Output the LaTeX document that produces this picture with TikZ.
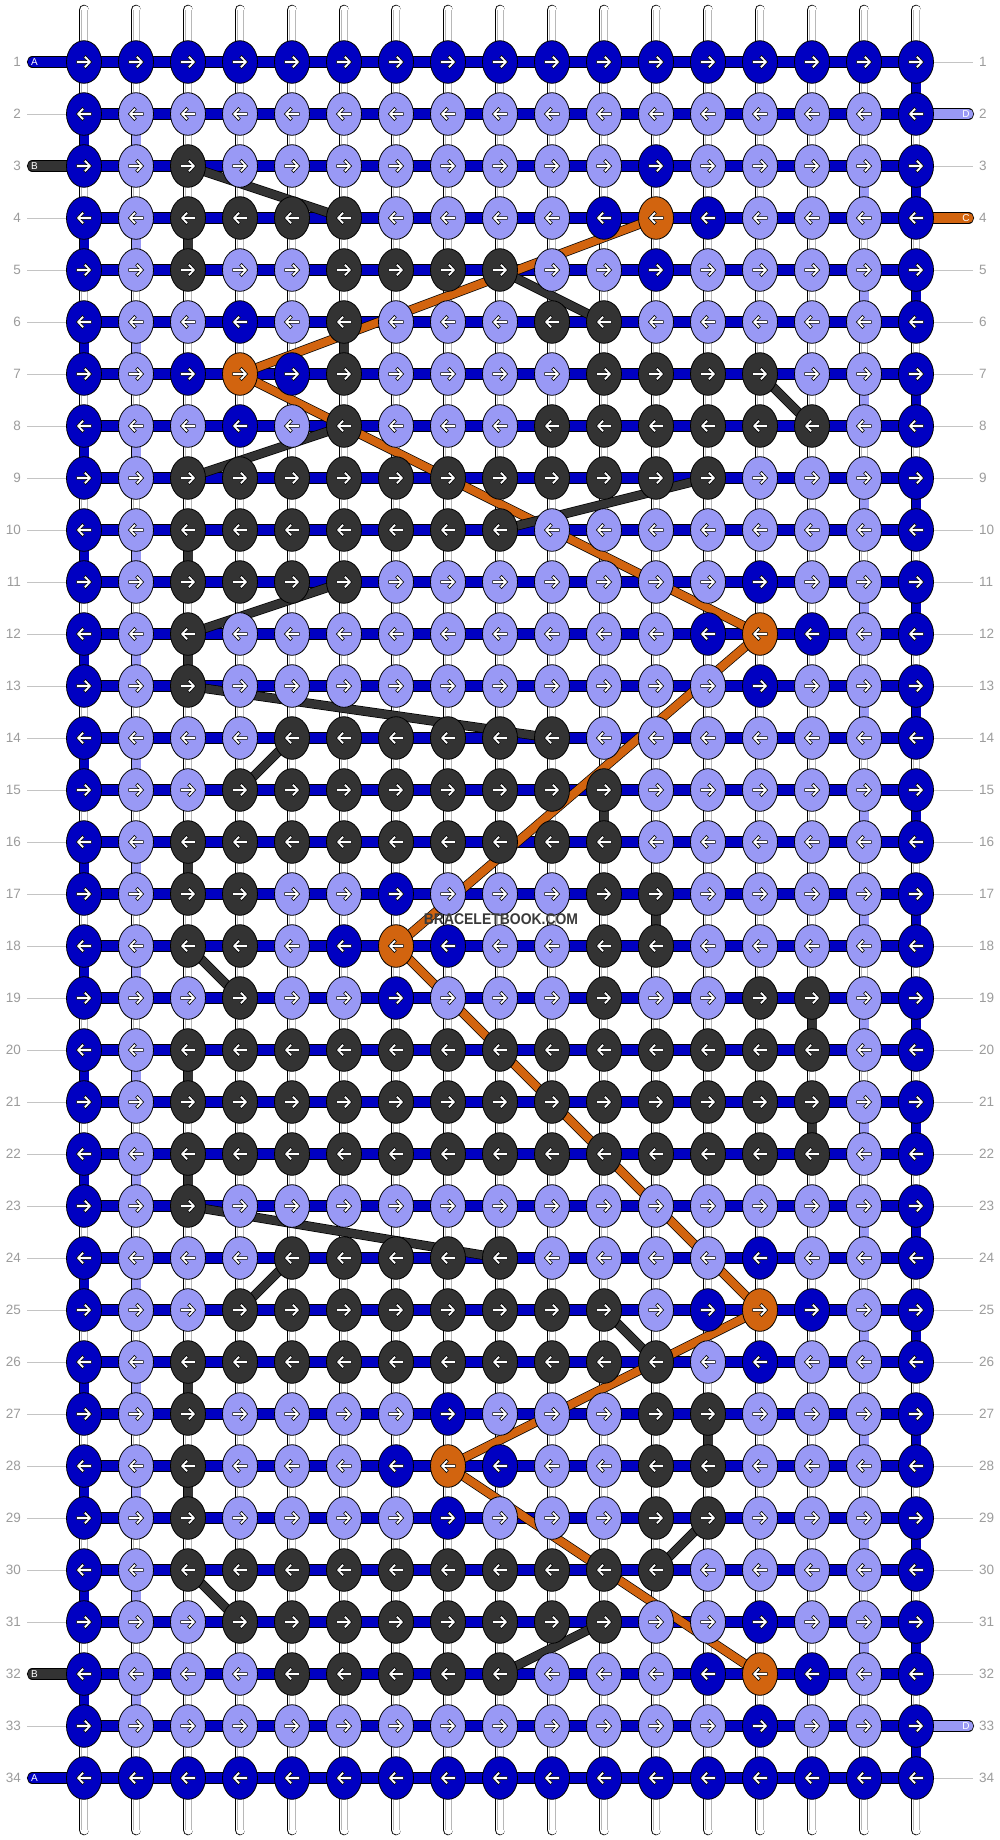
\documentclass[tikz,border=0pt]{standalone}
\usepackage{fontspec}
\setmainfont{Liberation Sans}
\usetikzlibrary{shapes.geometric}
\definecolor{cB}{HTML}{0000C2}
\definecolor{cL}{HTML}{9999F5}
\definecolor{cK}{HTML}{333333}
\definecolor{cO}{HTML}{D2640F}
\definecolor{numgray}{HTML}{9C9C9C}
\definecolor{guidegray}{HTML}{C4C4C4}
\definecolor{wmgray}{HTML}{3A3A3A}
\pgfdeclarelayer{bg}
\pgfdeclarelayer{lines}
\pgfsetlayers{bg,lines,main}
\tikzset{
  knotnode/.style={ellipse, draw=black, line width=0.8pt, minimum width=35pt, minimum height=42.6pt, inner sep=0pt, outer sep=0pt},
  arrowglyph/.style={fill=white, draw=black, line width=0.6pt, line join=miter},
  strand/.style={draw=black, line width=0.8pt, double=white, double distance=9pt, line cap=round},
  strandshade/.style={draw=black!28, line width=0.6pt},
  seg/.style={draw=black, line width=0.8pt, double=#1, double distance=9pt},
  band/.style={draw=black, line width=0.8pt, double=#1, double distance=9.6pt},
  tail/.style={draw=black, line width=0.8pt, double=#1, double distance=9.6pt, line cap=round},
  carry/.style={draw=black, line width=0.7pt, double=#1, double distance=8pt},
  rownum/.style={text=numgray, font=\fontsize{13.5}{14}\selectfont, inner sep=0pt},
  guide/.style={draw=guidegray, line width=1pt},
  taillabel/.style={text=white, font=\fontsize{10}{11}\selectfont, inner sep=0pt},
}
\newcommand\defknotrow[2]{\expandafter\def\csname krow#1\endcsname{#2}}
\defknotrow{1}{B,B,B,B,B,B,B,B,B,B,B,B,B,B,B,B,B}
\defknotrow{2}{B,L,L,L,L,L,L,L,L,L,L,L,L,L,L,L,B}
\defknotrow{3}{B,L,K,L,L,L,L,L,L,L,L,B,L,L,L,L,B}
\defknotrow{4}{B,L,K,K,K,K,L,L,L,L,B,O,B,L,L,L,B}
\defknotrow{5}{B,L,K,L,L,K,K,K,K,L,L,B,L,L,L,L,B}
\defknotrow{6}{B,L,L,B,L,K,L,L,L,K,K,L,L,L,L,L,B}
\defknotrow{7}{B,L,B,O,B,K,L,L,L,L,K,K,K,K,L,L,B}
\defknotrow{8}{B,L,L,B,L,K,L,L,L,K,K,K,K,K,K,L,B}
\defknotrow{9}{B,L,K,K,K,K,K,K,K,K,K,K,K,L,L,L,B}
\defknotrow{10}{B,L,K,K,K,K,K,K,K,L,L,L,L,L,L,L,B}
\defknotrow{11}{B,L,K,K,K,K,L,L,L,L,L,L,L,B,L,L,B}
\defknotrow{12}{B,L,K,L,L,L,L,L,L,L,L,L,B,O,B,L,B}
\defknotrow{13}{B,L,K,L,L,L,L,L,L,L,L,L,L,B,L,L,B}
\defknotrow{14}{B,L,L,L,K,K,K,K,K,K,L,L,L,L,L,L,B}
\defknotrow{15}{B,L,L,K,K,K,K,K,K,K,K,L,L,L,L,L,B}
\defknotrow{16}{B,L,K,K,K,K,K,K,K,K,K,L,L,L,L,L,B}
\defknotrow{17}{B,L,K,K,L,L,B,L,L,L,K,K,L,L,L,L,B}
\defknotrow{18}{B,L,K,K,L,B,O,B,L,L,K,K,L,L,L,L,B}
\defknotrow{19}{B,L,L,K,L,L,B,L,L,L,K,L,L,K,K,L,B}
\defknotrow{20}{B,L,K,K,K,K,K,K,K,K,K,K,K,K,K,L,B}
\defknotrow{21}{B,L,K,K,K,K,K,K,K,K,K,K,K,K,K,L,B}
\defknotrow{22}{B,L,K,K,K,K,K,K,K,K,K,K,K,K,K,L,B}
\defknotrow{23}{B,L,K,L,L,L,L,L,L,L,L,L,L,L,L,L,B}
\defknotrow{24}{B,L,L,L,K,K,K,K,K,L,L,L,L,B,L,L,B}
\defknotrow{25}{B,L,L,K,K,K,K,K,K,K,K,L,B,O,B,L,B}
\defknotrow{26}{B,L,K,K,K,K,K,K,K,K,K,K,L,B,L,L,B}
\defknotrow{27}{B,L,K,L,L,L,L,B,L,L,L,K,K,L,L,L,B}
\defknotrow{28}{B,L,K,L,L,L,B,O,B,L,L,K,K,L,L,L,B}
\defknotrow{29}{B,L,K,L,L,L,L,B,L,L,L,K,K,L,L,L,B}
\defknotrow{30}{B,L,K,K,K,K,K,K,K,K,K,K,L,L,L,L,B}
\defknotrow{31}{B,L,L,K,K,K,K,K,K,K,K,L,L,B,L,L,B}
\defknotrow{32}{B,L,L,L,K,K,K,K,K,L,L,L,B,O,B,L,B}
\defknotrow{33}{B,L,L,L,L,L,L,L,L,L,L,L,L,B,L,L,B}
\defknotrow{34}{B,B,B,B,B,B,B,B,B,B,B,B,B,B,B,B,B}
\begin{document}
\begin{tikzpicture}[x=1pt,y=-1pt]
\useasboundingbox (0,0) rectangle (1000,1840);
% knots and arrows
\foreach \r in {1,...,34}{
  \pgfmathsetmacro{\y}{62+52*(\r-1)}
  \pgfmathsetmacro{\dir}{2*mod(\r,2)-1}
  \edef\cols{\csname krow\r\endcsname}
  \foreach \k [count=\c] in \cols {
    \pgfmathsetmacro{\x}{84+52*(\c-1)}
    \node[knotnode, fill=c\k] (k-\r-\c) at (\x,\y) {};
    \draw[arrowglyph, shift={(\x,\y)}, xscale=\dir]
      (-7.4,-1.4) -- (2.8,-1.4) -- (-0.4,-4.6) -- (1.6,-6.6) -- (7.6,0)
      -- (1.6,6.6) -- (-0.4,4.6) -- (2.8,1.4) -- (-7.4,1.4) -- cycle;
  }
  \node[rownum, anchor=east] (ln-\r) at (21,\y) {\r};
  \node[rownum, anchor=west] (rn-\r) at (979,\y) {\r};
}
% background strands
\begin{pgfonlayer}{bg}
  \fill[white] (0,0) rectangle (1000,1840);
  \foreach \c in {1,...,17}{
    \pgfmathsetmacro{\x}{84+52*(\c-1)}
    \draw[strand] (\x,10) -- (\x,1830);
    \draw[strandshade] (\x-2.8,10) -- (\x-2.8,1830) (\x+2.8,10) -- (\x+2.8,1830);
  }
\end{pgfonlayer}
% string segments, bands, tails, carried strings
\begin{pgfonlayer}{lines}
  \foreach \r [evaluate=\r as \s using int(\r+1)] in {1,3,...,33}
    \draw[seg=cB] (k-\r-17.center) -- (k-\s-17.center);
  \foreach \r [evaluate=\r as \s using int(\r+1)] in {2,4,...,32}{
    \draw[seg=cB] (k-\r-1.center) -- (k-\s-1.center);
    \draw[seg=cL] (k-\r-2.center) -- (k-\s-2.center);
  }
  \foreach \r [evaluate=\r as \s using int(\r+1)] in {3,5,...,31}
    \draw[seg=cL] (k-\r-16.center) -- (k-\s-16.center);
  \foreach \r/\c in {4/3,6/6,10/3,12/3,15/11,16/3,17/12,19/15,20/3,21/15,22/3,26/3,27/13,28/3}{
    \pgfmathtruncatemacro{\s}{\r+1}
    \draw[seg=cK] (k-\r-\c.center) -- (k-\s-\c.center);
  }
  \foreach \r in {1,...,34}
    \draw[band=cB] (k-\r-1.center) -- (k-\r-17.center);
  % guide lines
  \foreach \r in {2,4,5,...,31,33}{
    \pgfmathsetmacro{\y}{62+52*(\r-1)}
    \draw[guide] (27,\y) -- (k-\r-1.west);
  }
  \foreach \r in {1,3,5,6,...,32,34}{
    \pgfmathsetmacro{\y}{62+52*(\r-1)}
    \draw[guide] (k-\r-17.east) -- (973,\y);
  }
  % tails
  \coordinate (tA1) at (32.5,62);
  \coordinate (tB3) at (32.5,166);
  \coordinate (tB32) at (32.5,1674);
  \coordinate (tA34) at (32.5,1778);
  \coordinate (tD2) at (968.5,114);
  \coordinate (tC4) at (968.5,218);
  \coordinate (tD33) at (968.5,1726);
  \draw[tail=cB] (tA1) -- (k-1-1.center);
  \draw[tail=cK] (tB3) -- (k-3-1.center);
  \draw[tail=cK] (tB32) -- (k-32-1.center);
  \draw[tail=cB] (tA34) -- (k-34-1.center);
  \draw[tail=cL] (k-2-17.center) -- (tD2);
  \draw[tail=cO] (k-4-17.center) -- (tC4);
  \draw[tail=cL] (k-33-17.center) -- (tD33);
  % carried orange string
  \foreach \a/\b/\c/\d in {4/12/7/4, 7/4/12/14, 12/14/18/7, 18/7/25/14, 25/14/28/8, 28/8/32/14}
    \draw[carry=cO] (k-\a-\b.center) -- (k-\c-\d.center);
  % carried dark string
  \foreach \a/\b/\c/\d in {3/3/4/6, 5/9/6/11, 7/14/8/15, 8/6/9/3, 9/13/10/9, 11/6/12/3, 13/3/14/10, 14/5/15/4, 18/3/19/4, 23/3/24/9, 24/5/25/4, 25/11/26/12, 29/13/30/12, 30/3/31/4, 31/11/32/9}
    \draw[carry=cK] (k-\a-\b.center) -- (k-\c-\d.center);
\end{pgfonlayer}
% tail letters
\node[taillabel] (lA1) at (34.5,62) {A};
\node[taillabel] (lB3) at (34.5,166) {B};
\node[taillabel] (lB32) at (34.5,1674) {B};
\node[taillabel] (lA34) at (34.5,1778) {A};
\node[taillabel] (lD2) at (966,114) {D};
\node[taillabel] (lC4) at (966,218) {C};
\node[taillabel] (lD33) at (966,1726) {D};
% watermark
\node[text=wmgray, font=\bfseries\fontsize{15.5}{16}\selectfont, inner sep=0pt] (wm) at (501,919) {\scalebox{0.9}[1]{BRACELETBOOK.COM}};
\end{tikzpicture}
\end{document}
